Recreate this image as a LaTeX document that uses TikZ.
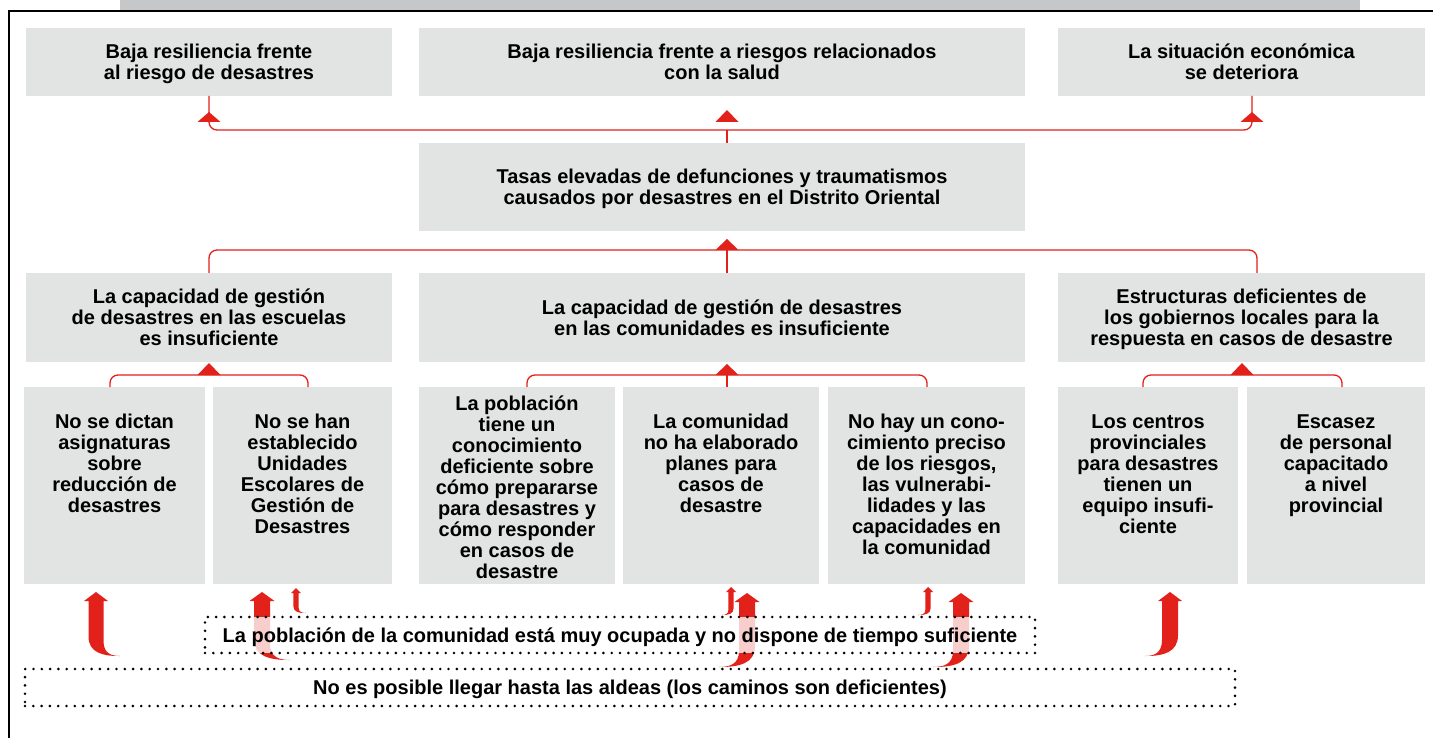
\documentclass[tikz,border=0pt]{standalone}
\usepackage{fontspec}
\setmainfont{Liberation Sans}
\usetikzlibrary{calc}
\definecolor{redc}{RGB}{227,33,27}
\definecolor{boxgray}{RGB}{226,227,227}
\definecolor{bargray}{RGB}{198,199,201}
% curved arrow: x, ytip, length, dir, tail offset, head half width, head height, shaft half width
\newcommand\curvarrow[8]{%
\begin{scope}[shift={(#1,#2)},xscale=#4]
\fill[redc] (0,0) -- (#6,#7) -- (#8,#7) -- (#8,{#3-2*#8})
  .. controls (#8,{#3-0.3*#8}) and ({#8+0.5*(#5-#8)},#3) .. (#5,#3)
  .. controls ({0.25*#5},{#3+0.2}) and (-#8,{#3-0.5*#8}) .. (-#8,{#3-2.6*#8})
  -- (-#8,#7) -- (-#6,#7) -- cycle;
\end{scope}}
\newcommand\uptri[3]{\fill[redc] ({#1-11.5},#2) -- ({#1+11.5},#2) -- (#1,{#2-#3}) -- cycle;}
\newcommand\toptext[3]{\parbox[t][197pt][t]{#1}{\centering\rule{0pt}{#2}#3}}
\tikzset{
  txt/.style={font=\fontsize{20}{21}\selectfont\bfseries},
  cbox/.style={txt, fill=boxgray, inner sep=0pt, outer sep=0pt, align=center, text depth=0pt},
  tbox/.style={txt, fill=boxgray, inner sep=0pt, outer sep=0pt, anchor=north west},
  redline/.style={draw=redc, line width=1.3pt, rounded corners=8pt},
  dotbox/.style={txt, draw=black, dash pattern=on 0pt off 8.3pt, line cap=round, line width=2.9pt, inner sep=0pt, outer sep=0pt, text depth=0pt}
}
\begin{document}
\begin{tikzpicture}[x=1pt,y=-1pt]
\useasboundingbox (0,0) rectangle (1433,738);
\fill[white] (0,0) rectangle (1433,738);
\fill[bargray] (120,0) rectangle (1360,10);
\draw[line width=1.4pt] (9,740) -- (9,11) -- (1435,11);

% row 1
\node[cbox, minimum width=366, minimum height=68] (a) at (209,62) {Baja resiliencia frente\\al riesgo de desastres};
\node[cbox, minimum width=606, minimum height=68] (b) at (722,62) {Baja resiliencia frente a riesgos relacionados\\con la salud};
\node[cbox, minimum width=367, minimum height=68] (c) at (1241.5,62) {La situación económica\\se deteriora};
% row 2
\node[cbox, minimum width=606, minimum height=88] (d) at (722,187) {Tasas elevadas de defunciones y traumatismos\\causados por desastres en el Distrito Oriental};
% row 3
\node[cbox, minimum width=366, minimum height=89] (e) at (209,317.5) {La capacidad de gestión\\de desastres en las escuelas\\es insuficiente};
\node[cbox, minimum width=606, minimum height=89] (f) at (722,317.5) {La capacidad de gestión de desastres\\en las comunidades es insuficiente};
\node[cbox, minimum width=367, minimum height=89] (g) at (1241.5,317.5) {Estructuras deficientes de\\los gobiernos locales para la\\respuesta en casos de desastre};
% row 4
\node[tbox] (h1) at (24,387) {\toptext{181pt}{41pt}{No se dictan\\asignaturas\\sobre\\reducción de\\desastres}};
\node[tbox] (h2) at (213,387) {\toptext{179pt}{41pt}{No se han\\establecido\\Unidades\\Escolares de\\Gestión de\\Desastres}};
\node[tbox] (i1) at (419,387) {\toptext{196pt}{23pt}{La población\\tiene un\\conocimiento\\deficiente sobre\\cómo prepararse\\para desastres y\\cómo responder\\en casos de\\desastre}};
\node[tbox] (i2) at (623,387) {\toptext{196pt}{41pt}{La comunidad\\no ha elaborado\\planes para\\casos de\\desastre}};
\node[tbox] (i3) at (828,387) {\toptext{197pt}{41pt}{No hay un cono-\\cimiento preciso\\de los riesgos,\\las vulnerabi-\\lidades y las\\capacidades en\\la comunidad}};
\node[tbox] (j1) at (1058,387) {\toptext{180pt}{41pt}{Los centros\\provinciales\\para desastres\\tienen un\\equipo insufi-\\ciente}};
\node[tbox] (j2) at (1247,387) {\toptext{178pt}{41pt}{Escasez\\de personal\\capacitado\\a nivel\\provincial}};

% connectors top
\coordinate (k1) at (727,130);
\draw[redline] (a.south) |- (k1) -| ([xshift=10.5pt]c.south);
\draw[redline] ([xshift=5pt]d.north) -- (k1);
\uptri{209}{122}{10}
\uptri{727}{122}{12}
\uptri{1252}{122}{10}
\coordinate (k2) at (727,250);
\draw[redline] (e.north) |- (k2) -| ([xshift=15.5pt]g.north);
\draw[redline] ([xshift=5pt]f.north) -- (k2);
\uptri{727}{250}{11}
% connectors row 3
\coordinate (k3) at (209,375);
\draw[redline] ([xshift=-4.5pt]h1.north) |- (k3) -| ([xshift=5.5pt]h2.north);
\uptri{209}{375}{12}
\coordinate (k4) at (727,375);
\draw[redline] ([xshift=10pt]i1.north) |- (k4) -| ([xshift=0.5pt]i3.north);
\draw[redline] ([xshift=6pt]i2.north) -- (k4);
\uptri{727}{375}{11}
\coordinate (k5) at (1242,375);
\draw[redline] ([xshift=-5pt]j1.north) |- (k5) -| ([xshift=6pt]j2.north);
\uptri{1242}{375}{12}

% bottom box L
\node[dotbox, minimum width=1210, minimum height=37] (l) at (630,687.5) {No es posible llegar hasta las aldeas (los caminos son deficientes)};

% curved arrows
\curvarrow{96}{592}{64}{1}{24}{12}{9}{7.5}
\curvarrow{262}{592}{68}{1}{28}{12.5}{9}{8}
\curvarrow{296}{588}{25}{1}{10}{5}{5}{2.6}
\curvarrow{731}{587}{28}{-1}{9}{5}{5}{2.6}
\curvarrow{747}{593}{74}{-1}{28}{12.5}{9}{8}
\curvarrow{928}{587}{28}{-1}{10}{5}{5}{2.6}
\curvarrow{961}{593}{74}{-1}{28}{12.5}{9}{8}
\curvarrow{1170}{592}{64}{-1}{25}{12}{9}{8}

% box K over arrows
\node[dotbox, fill=white, fill opacity=0.78, draw opacity=1, text opacity=1, minimum width=830, minimum height=36] (k) at (620,635) {La población de la comunidad está muy ocupada y no dispone de tiempo suficiente};
\end{tikzpicture}
\end{document}
